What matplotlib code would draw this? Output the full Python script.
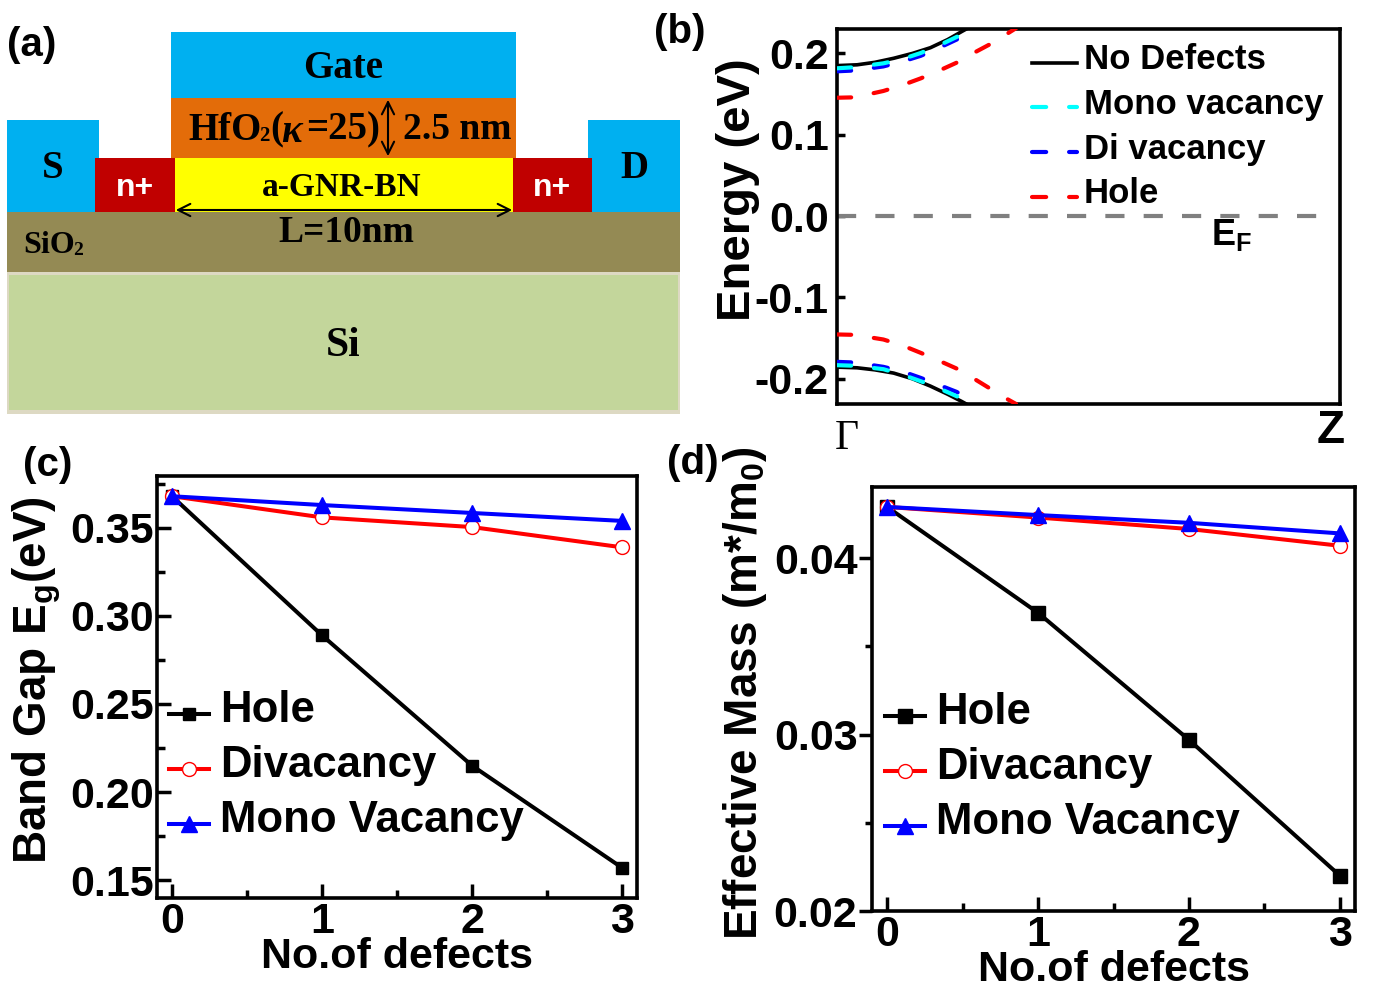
import matplotlib
matplotlib.use("Agg")
import numpy as np
import matplotlib.pyplot as plt
from matplotlib.patches import Rectangle
from matplotlib.ticker import MultipleLocator

plt.rcParams['font.family'] = ['Liberation Sans', 'DejaVu Sans']
plt.rcParams['font.weight'] = 'bold'
plt.rcParams['axes.labelweight'] = 'bold'
plt.rcParams['mathtext.fontset'] = 'custom'
plt.rcParams['mathtext.rm'] = 'Liberation Sans:bold'
plt.rcParams['mathtext.bf'] = 'Liberation Sans:bold'
plt.rcParams['mathtext.it'] = 'Liberation Sans:bold'

W, H = 1377, 996

# panel b, band edges (k fraction, energy in eV)
k_black = [0.0, 0.04, 0.075, 0.1126, 0.15, 0.1857, 0.22, 0.2483, 0.26]
e_black_up = [0.185, 0.186, 0.189, 0.194, 0.200, 0.207, 0.217, 0.227, 0.231]
e_black_dn = [-0.1857, -0.1865, -0.189, -0.193, -0.200, -0.209, -0.219, -0.228, -0.232]
k_mono = [0.0, 0.035, 0.0922, 0.13, 0.1664, 0.20, 0.2378, 0.2544, 0.265]
e_mono_up = [0.1817, 0.183, 0.1878, 0.193, 0.2005, 0.209, 0.2202, 0.226, 0.231]
e_mono_dn = [-0.1833, -0.184, -0.1882, -0.195, -0.203, -0.211, -0.2214, -0.2272, -0.232]
e_di_up = [0.178, 0.179, 0.184, 0.190, 0.197, 0.206, 0.217, 0.223, 0.228]
e_di_dn = [-0.1792, -0.180, -0.1853, -0.191, -0.1989, -0.207, -0.2161, -0.222, -0.228]
k_hole = [0.0, 0.035, 0.0922, 0.13, 0.1664, 0.20, 0.2378, 0.27, 0.304, 0.33, 0.356]
e_hole_up = [0.1455, 0.146, 0.1538, 0.161, 0.1693, 0.178, 0.1886, 0.200, 0.2112, 0.221, 0.231]
e_hole_dn = [-0.1455, -0.146, -0.1517, -0.159, -0.1681, -0.177, -0.1874, -0.199, -0.2119, -0.222, -0.231]

# panels c and d
defects = [0, 1, 2, 3]
gap_hole = [0.368, 0.289, 0.215, 0.157]
gap_div = [0.368, 0.356, 0.3505, 0.339]
gap_mono = [0.368, 0.363, 0.3585, 0.354]
mass_hole = [0.0429, 0.0369, 0.0297, 0.0220]
mass_div = [0.0429, 0.0423, 0.04165, 0.0407]
mass_mono = [0.0429, 0.04244, 0.0420, 0.0414]

series_names = ['Hole', 'Divacancy', 'Mono Vacancy']
band_names = ['No Defects', 'Mono vacancy', 'Di vacancy', 'Hole']


def px_axes(fig, left, top, right, bottom):
    return fig.add_axes([left / W, 1 - bottom / H, (right - left) / W, (bottom - top) / H])


def drop_handles(leg, pts):
    # legend lines sit below the middle of their text in the original
    for line in leg.get_lines():
        line.set_ydata(np.asarray(line.get_ydata()) - pts)


fig = plt.figure(figsize=(W / 100, H / 100), dpi=100)

# whole-figure layer in pixels, holds the device sketch and the panel letters
bg = fig.add_axes([0, 0, 1, 1], zorder=5)
bg.set_xlim(0, W)
bg.set_ylim(H, 0)
bg.axis('off')

BLUE = '#00B0F0'
RED = '#C00000'
blocks = [
    (7, 120, 92, 92, BLUE),     # S
    (588, 120, 92, 92, BLUE),   # D
    (171, 32, 345, 66, BLUE),   # gate
    (171, 98, 345, 60, '#E36C09'),
    (175, 158, 338, 54, '#FFFF00'),
    (95, 158, 80, 54, RED),
    (513, 158, 79, 54, RED),
    (7, 212, 673, 60, '#948A54'),
    (7, 272, 673, 142, '#DDD9C3'),
    (9, 275, 669, 135, '#C3D69B'),
]
for x0, y0, w, h, c in blocks:
    bg.add_patch(Rectangle((x0, y0), w, h, facecolor=c, edgecolor='none'))


def serif(x, y, s, size, ha='center', color='black', style='normal'):
    bg.text(x, y, s, fontsize=size, ha=ha, va='center', color=color, style=style,
            family='Liberation Serif', weight='bold')


serif(343, 68, 'Gate', 28)
serif(188, 130, 'HfO', 28, ha='left')
serif(259, 136, '2', 15, ha='left')
serif(270, 130, '(', 28, ha='left')
serif(281, 132, '\u03ba', 28, ha='left', style='italic')
serif(306, 130, '=25)', 28, ha='left')
serif(403, 129, '2.5 nm', 27, ha='left')
serif(342, 187, 'a-GNR-BN', 24)
serif(346, 232, 'L=10nm', 27)
serif(23, 245, 'SiO', 23, ha='left')
serif(73, 250, '2', 14, ha='left')
serif(343, 346, 'Si', 30)
serif(53, 168, 'S', 28)
serif(634, 168, 'D', 28)
bg.text(135, 188, 'n+', fontsize=23, ha='center', va='center', color='white')
bg.text(552, 188, 'n+', fontsize=23, ha='center', va='center', color='white')
bg.annotate('', xy=(388, 97), xytext=(388, 159),
            arrowprops=dict(arrowstyle='<->', color='black', lw=1.5, mutation_scale=22))
bg.annotate('', xy=(173, 210), xytext=(515, 210),
            arrowprops=dict(arrowstyle='<->', color='black', lw=1.5, mutation_scale=22))

for x0, y0, s in [(32, 45, '(a)'), (680, 32, '(b)'), (48, 465, '(c)'), (693, 463, '(d)')]:
    bg.text(x0, y0, s, fontsize=29, ha='center', va='center')

# panel b
ax = px_axes(fig, 837, 29, 1340, 404)
dash = (0, (3.4, 5.5))
dash_kw = dict(lw=3, ls=dash, dash_capstyle='round')
ax.plot(k_black, e_black_up, color='black', lw=2.6, label=band_names[0], zorder=3)
ax.plot(k_black, e_black_dn, color='black', lw=2.6, zorder=3)
ax.plot(k_mono, e_di_up, color='#0000FF', zorder=4, **dash_kw)
ax.plot(k_mono, e_di_dn, color='#0000FF', zorder=4, **dash_kw)
ax.plot(k_mono, e_mono_up, color='#00FFFF', label=band_names[1], zorder=5, **dash_kw)
ax.plot(k_mono, e_mono_dn, color='#00FFFF', zorder=5, **dash_kw)
ax.plot([], [], color='#0000FF', label=band_names[2], **dash_kw)
ax.plot(k_hole, e_hole_up, color='#FF0000', label=band_names[3], zorder=4, **dash_kw)
ax.plot(k_hole, e_hole_dn, color='#FF0000', zorder=4, **dash_kw)
ax.plot([0, 0.97], [0, 0], color='#808080', lw=3, ls=(0, (4.6, 4.6)))
ax.set_xlim(0, 1)
ax.set_ylim(-0.231, 0.23)
ax.set_xticks([])
ax.set_yticks([-0.2, -0.1, 0.0, 0.1, 0.2])
ax.set_yticklabels(['-0.2', '-0.1', '0.0', '0.1', '0.2'])
ax.tick_params(axis='y', direction='in', length=6, width=2.5, labelsize=31, pad=6)
for sp in ax.spines.values():
    sp.set_linewidth(2.6)
ax.set_ylabel('Energy (eV)', fontsize=34)
ax.yaxis.set_label_coords(-0.153, 0.572)
leg = ax.legend(loc='upper left', bbox_to_anchor=(0.387, 0.962), frameon=False, fontsize=25,
                handlelength=1.3, handletextpad=0.2, labelspacing=0.335, borderpad=0, borderaxespad=0)
drop_handles(leg, 4)
bg.text(1211, 235, 'E$_{F}$', fontsize=26, ha='left', va='center')
bg.text(847, 439, '\u0393', fontsize=30, ha='center', va='center', family='Liberation Serif', weight='normal')
bg.text(1331, 431, 'Z', fontsize=33, ha='center', va='center')


def defect_panel(ax, hole, div, mono, mk):
    ax.plot(defects, hole, color='black', lw=2.9, marker='s', ms=mk, label=series_names[0])
    ax.plot(defects, div, color='#FF0000', lw=2.9, marker='o', ms=10, mfc='white', mec='#FF0000',
            mew=1, label=series_names[1])
    ax.plot(defects, mono, color='#0000FF', lw=2.9, marker='^', ms=11.5, label=series_names[2])
    ax.set_xticks(defects)
    ax.set_xlim(-0.1, 3.1)
    ax.xaxis.set_minor_locator(MultipleLocator(0.5))
    ax.tick_params(axis='x', which='major', direction='in', length=10, width=2.5, labelsize=31, pad=3)
    ax.tick_params(axis='x', which='minor', direction='in', length=6, width=2.5)
    for sp in ax.spines.values():
        sp.set_linewidth(2.6)


# panel c
ax = px_axes(fig, 157, 476, 637, 898)
defect_panel(ax, gap_hole, gap_div, gap_mono, 9)
ax.set_ylim(0.1398, 0.3795)
ax.set_yticks([0.15, 0.20, 0.25, 0.30, 0.35])
ax.set_yticklabels(['0.15', '0.20', '0.25', '0.30', '0.35'])
ax.yaxis.set_minor_locator(MultipleLocator(0.025))
ax.tick_params(axis='y', which='major', direction='in', length=10, width=2.5, labelsize=31, pad=2)
ax.tick_params(axis='y', which='minor', direction='in', length=6, width=2.5)
ax.set_xlabel('No.of defects', fontsize=31)
ax.xaxis.set_label_coords(0.5, -0.14)
ax.xaxis.label.set_va('center')
ax.set_ylabel('Band Gap E$_{g}$(eV)', fontsize=33)
ax.yaxis.set_label_coords(-0.196, 0.517)
leg = ax.legend(loc='lower left', bbox_to_anchor=(0.024, 0.135), frameon=False, fontsize=31.5,
                handlelength=0.92, handletextpad=0.25, labelspacing=0.32, borderpad=0, borderaxespad=0)
drop_handles(leg, 5.5)

# panel d
ax = px_axes(fig, 872, 487, 1355, 911)
defect_panel(ax, mass_hole, mass_div, mass_mono, 10.5)
ax.set_ylim(0.020, 0.04403)
ax.set_yticks([0.02, 0.03, 0.04])
ax.set_yticklabels(['0.02', '0.03', '0.04'])
ax.yaxis.set_minor_locator(MultipleLocator(0.005))
ax.tick_params(axis='y', which='major', direction='out', length=9.5, width=2.5, labelsize=31, pad=1)
ax.tick_params(axis='y', which='minor', direction='out', length=5, width=2.5)
ax.set_xlabel('No.of defects', fontsize=31)
ax.xaxis.set_label_coords(0.5, -0.139)
ax.xaxis.label.set_va('center')
ax.set_ylabel('Effective Mass (m*/m$_{0}$)', fontsize=33)
ax.yaxis.set_label_coords(-0.213, 0.514)
leg = ax.legend(loc='lower left', bbox_to_anchor=(0.027, 0.16), frameon=False, fontsize=31.5,
                handlelength=0.92, handletextpad=0.25, labelspacing=0.32, borderpad=0, borderaxespad=0)
drop_handles(leg, 5.5)

fig.savefig('out.png', dpi=100)
